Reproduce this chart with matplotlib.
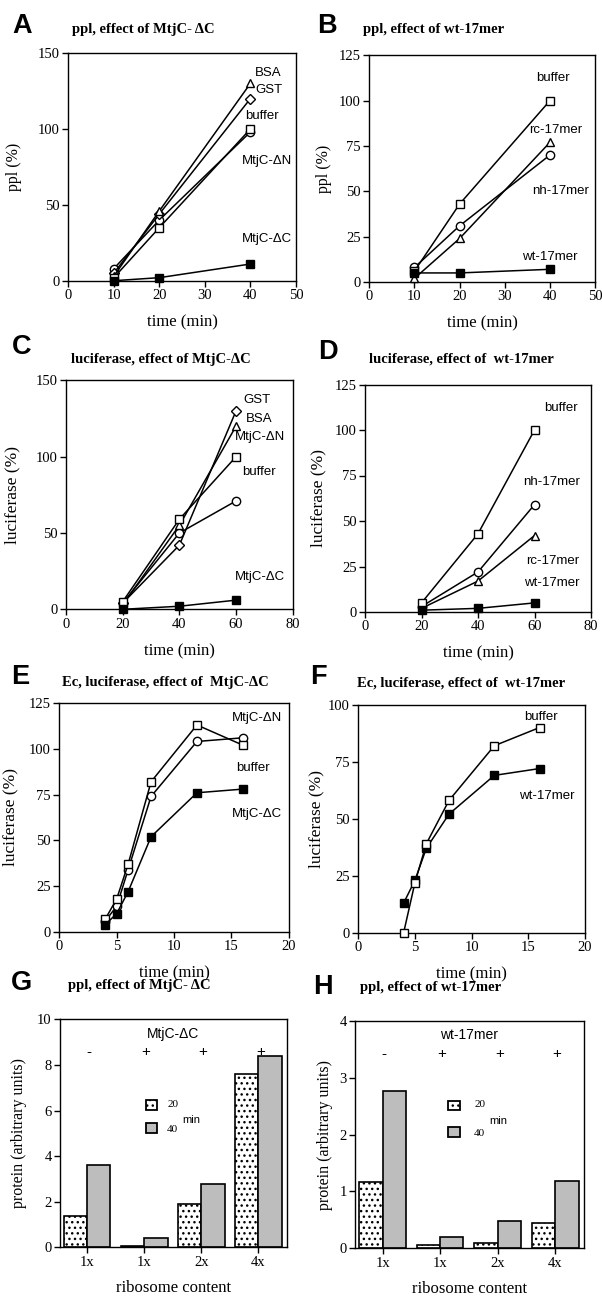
import matplotlib
matplotlib.use("Agg")
import matplotlib.pyplot as plt
from matplotlib.patches import Rectangle

# ---------------- data ----------------
tA = [10, 20, 40]
A_BSA = [3, 46, 130]
A_GST = [5, 44, 120]
A_buffer = [2, 35, 100]
A_dN = [8, 40, 98]
A_dC = [0, 2, 11]

tB = [10, 20, 40]
B_buffer = [6, 43, 100]
B_rc = [2, 24, 77]
B_nh = [8, 31, 70]
B_wt = [5, 5, 7]

tC = [20, 40, 60]
C_GST = [4, 42, 130]
C_BSA = [3, 55, 120]
C_buffer = [5, 59, 100]
C_dN = [4, 50, 71]
C_dC = [0, 2, 6]

tD = [20, 40, 60]
D_buffer = [5, 43, 100]
D_nh = [3, 22, 59]
D_rc = [2, 17, 42]
D_wt = [1, 2, 5]

tE = [4, 5, 6, 8, 12, 16]
E_dN = [7, 18, 37, 82, 113, 102]
E_buffer = [6, 14, 34, 74, 104, 106]
E_dC = [4, 10, 22, 52, 76, 78]

tF = [4, 5, 6, 8, 12, 16]
F_buffer = [0, 22, 39, 58, 82, 90]
F_wt = [13, 23, 37, 52, 69, 72]

bar_cats = ["1x", "1x", "2x", "4x"]
signs = ["-", "+", "+", "+"]
G_20 = [1.37, 0.05, 1.9, 7.6]
G_40 = [3.62, 0.42, 2.77, 8.37]
H_20 = [1.17, 0.05, 0.10, 0.44]
H_40 = [2.77, 0.19, 0.48, 1.19]

# ---------------- style ----------------
W, H = 602, 1296
fig = plt.figure(figsize=(W / 100, H / 100), dpi=100)
SERIF = "Liberation Serif"
SANS = "Liberation Sans"
plt.rcParams["hatch.linewidth"] = 1.0


def mkax(left, right, top, bottom):
    return fig.add_axes([left / W, 1 - bottom / H, (right - left) / W, (bottom - top) / H])


def style(ax, xlim, ylim, xticks, yticks, ylabel, ylab_x, ylab_size, xlabel="time (min)", xlab_size=12):
    ax.set_xlim(*xlim)
    ax.set_ylim(*ylim)
    ax.set_xticks(xticks)
    ax.set_yticks(yticks)
    for sp in ax.spines.values():
        sp.set_linewidth(1.0)
    ax.tick_params(direction="out", length=4, width=1, labelsize=10.5, pad=2)
    for lab in ax.get_xticklabels() + ax.get_yticklabels():
        lab.set_family(SERIF)
    ax.set_ylabel(ylabel, family=SERIF, fontsize=ylab_size)
    ax.yaxis.set_label_coords(ylab_x, 0.5)
    ax.set_xlabel(xlabel, family=SERIF, fontsize=xlab_size, labelpad=9)


def header(letter, lx, ly, title, tx, ty):
    fig.text(lx / W, 1 - ly / H, letter, family=SANS, weight="bold", fontsize=19.5,
             ha="left", va="center")
    fig.text(tx / W, 1 - ty / H, title, family=SERIF, weight="bold", fontsize=10.5,
             ha="center", va="center")


MS = 6
LW = 1.1


def series(ax, x, y, marker, filled=False, ms=MS):
    ax.plot(x, y, color="black", lw=LW, marker=marker, markersize=ms,
            markerfacecolor="black" if filled else "white",
            markeredgecolor="black", markeredgewidth=1.0, zorder=3, clip_on=False)


def lab(ax, x, y, s):
    ax.text(x, y, s, family=SANS, fontsize=9.5, ha="center", va="center", zorder=5)


# ---------------- A ----------------
ax = mkax(68.3, 296, 53, 280.7)
series(ax, tA, A_dN, "o")
series(ax, tA, A_GST, "D", ms=5)
series(ax, tA, A_BSA, "^")
series(ax, tA, A_buffer, "s")
series(ax, tA, A_dC, "s", filled=True)
style(ax, (0, 50), (0, 150), range(0, 51, 10), range(0, 151, 50), "ppl (%)", -0.205, 11.5)
lab(ax, 43.9, 136.8, "BSA")
lab(ax, 44.1, 125.6, "GST")
lab(ax, 42.5, 108.5, "buffer")
lab(ax, 43.6, 79, "MtjC-ΔN")
lab(ax, 43.6, 27.6, "MtjC-ΔC")
header("A", 12, 26, "ppl, effect of MtjC- ΔC", 143, 29)

# ---------------- B ----------------
ax = mkax(369.3, 595, 55.4, 282)
series(ax, tB, B_nh, "o")
series(ax, tB, B_rc, "^")
series(ax, tB, B_buffer, "s")
series(ax, tB, B_wt, "s", filled=True)
style(ax, (0, 50), (0, 125), range(0, 51, 10), range(0, 126, 25), "ppl (%)", -0.167, 11.5)
lab(ax, 40.7, 112.6, "buffer")
lab(ax, 41.2, 84, "rc-17mer")
lab(ax, 42.3, 50.3, "nh-17mer")
lab(ax, 40.0, 14, "wt-17mer")
header("B", 317, 26, "ppl, effect of wt-17mer", 434, 30)

# ---------------- C ----------------
ax = mkax(66, 292.7, 380.4, 609.3)
series(ax, tC, C_dN, "o")
series(ax, tC, C_GST, "D", ms=5)
series(ax, tC, C_BSA, "^")
series(ax, tC, C_buffer, "s")
series(ax, tC, C_dC, "s", filled=True)
style(ax, (0, 80), (0, 150), range(0, 81, 20), range(0, 151, 50), "luciferase (%)", -0.2, 12.5)
lab(ax, 67.3, 137.2, "GST")
lab(ax, 68.0, 124.9, "BSA")
lab(ax, 68.4, 112.7, "MtjC-ΔN")
lab(ax, 68.0, 90.2, "buffer")
lab(ax, 68.6, 21.2, "MtjC-ΔC")
header("C", 12, 347, "luciferase, effect of MtjC-ΔC", 161, 360)

# ---------------- D ----------------
ax = mkax(365, 591, 384.5, 612)
series(ax, tD, D_nh, "o")
series(ax, tD, D_rc, "^")
series(ax, tD, D_buffer, "s")
series(ax, tD, D_wt, "s", filled=True)
style(ax, (0, 80), (0, 125), range(0, 81, 20), range(0, 126, 25), "luciferase (%)", -0.173, 12.5)
lab(ax, 69.4, 111.9, "buffer")
lab(ax, 66.1, 71.6, "nh-17mer")
lab(ax, 66.4, 28, "rc-17mer")
lab(ax, 66.1, 15.8, "wt-17mer")
header("D", 318, 352, "luciferase, effect of  wt-17mer", 461, 359)

# ---------------- E ----------------
ax = mkax(59.3, 288.7, 703, 932)
series(ax, tE, E_buffer, "o")
series(ax, tE, E_dN, "s")
series(ax, tE, E_dC, "s", filled=True)
style(ax, (0, 20), (0, 125), range(0, 21, 5), range(0, 126, 25), "luciferase (%)", -0.18, 12.5)
lab(ax, 17.2, 117, "MtjC-ΔN")
lab(ax, 16.9, 89.4, "buffer")
lab(ax, 17.2, 64.4, "MtjC-ΔC")
header("E", 11, 677, "Ec, luciferase, effect of  MtjC-ΔC", 165, 683)

# ---------------- F ----------------
ax = mkax(358.3, 585, 704.7, 932.7)
series(ax, tF, F_wt, "s", filled=True)
series(ax, tF, F_buffer, "s")
style(ax, (0, 20), (0, 100), range(0, 21, 5), range(0, 101, 25), "luciferase (%)", -0.15, 12.5)
lab(ax, 16.1, 94.5, "buffer")
lab(ax, 16.6, 60.1, "wt-17mer")
header("F", 310, 677, "Ec, luciferase, effect of  wt-17mer", 461, 683)


# ---------------- bars ----------------
def bars(ax, v20, v40, ylim, yticks, top_label, ty, sy, legx, leg20y, leg40y, boxw, boxh,
         txtx, miny, ylab_x):
    pos = list(range(len(bar_cats)))
    bw = 0.405
    ax.bar([p - bw / 2 for p in pos], v20, width=bw, facecolor="white", edgecolor="black",
           hatch="...", linewidth=1.2, zorder=2)
    ax.bar([p + bw / 2 for p in pos], v40, width=bw, facecolor="#bdbdbd", edgecolor="black",
           linewidth=1.2, zorder=2)
    style(ax, (-0.48, 3.5), ylim, pos, yticks, "protein (arbitrary units)", ylab_x, 11.5,
          xlabel="ribosome content", xlab_size=12)
    ax.set_xticklabels(bar_cats)
    for lbl in ax.get_xticklabels():
        lbl.set_family(SERIF)
    ax.xaxis.labelpad = 8
    ax.text(1.5, ty, top_label, family=SANS, fontsize=10, ha="center", va="center")
    for p, s in zip(pos, signs):
        ax.text(p + 0.03, sy, s, family=SANS, fontsize=11, ha="center", va="center")
    ax.add_patch(Rectangle((legx - boxw / 2, leg20y - boxh / 2), boxw, boxh, facecolor="white",
                           edgecolor="black", hatch="...", linewidth=1.3, zorder=3))
    ax.add_patch(Rectangle((legx - boxw / 2, leg40y - boxh / 2), boxw, boxh, facecolor="#bdbdbd",
                           edgecolor="black", linewidth=1.3, zorder=3))
    ax.text(txtx, leg20y + boxh * 0.1, "20", family=SERIF, fontsize=8, ha="left", va="center")
    ax.text(txtx, leg40y - boxh * 0.1, "40", family=SERIF, fontsize=8, ha="left", va="center")
    ax.text(txtx + 0.27, miny, "min", family=SANS, fontsize=8, ha="left", va="center")


ax = mkax(60, 287, 1019.3, 1247.3)
bars(ax, G_20, G_40, (0, 10), range(0, 11, 2), "MtjC-ΔC", 9.36, 8.58,
     1.12, 6.24, 5.22, 0.2, 0.44, 1.4, 5.58, -0.145)
header("G", 11, 983, "ppl, effect of MtjC- ΔC", 139, 986)

ax = mkax(355, 584, 1020.7, 1248.3)
bars(ax, H_20, H_40, (0, 4), range(0, 5, 1), "wt-17mer", 3.75, 3.41,
     1.24, 2.51, 2.04, 0.2, 0.175, 1.59, 2.24, -0.096)
header("H", 313, 987, "ppl, effect of wt-17mer", 431, 987)

fig.savefig("out.png", dpi=100)
